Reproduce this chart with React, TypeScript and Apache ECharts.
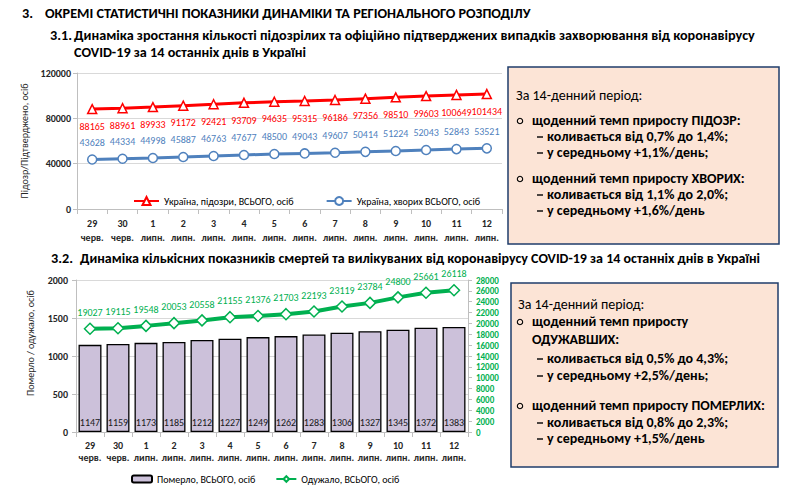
import React, { useEffect, useRef } from "react";
import * as echarts from "echarts";

const days = ["29", "30", "1", "2", "3", "4", "5", "6", "7", "8", "9", "10", "11", "12"];
const months = ["черв.", "черв.", "липн.", "липн.", "липн.", "липн.", "липн.", "липн.", "липн.", "липн.", "липн.", "липн.", "липн.", "липн."];
const suspected = [88165, 88961, 89933, 91172, 92421, 93709, 94635, 95315, 96186, 97356, 98510, 99603, 100649, 101434];
const confirmed = [43628, 44334, 44998, 45887, 46763, 47677, 48500, 49043, 49607, 50414, 51224, 52043, 52843, 53521];
const deaths = [1147, 1159, 1173, 1185, 1212, 1227, 1249, 1262, 1283, 1306, 1327, 1345, 1372, 1383];
const recovered = [19027, 19115, 19548, 20053, 20558, 21155, 21376, 21703, 22193, 23119, 23784, 24800, 25661, 26118];

const seriesNames = [
  "Україна, підозри, ВСЬОГО, осіб",
  "Україна, хворих ВСЬОГО, осіб",
  "Померло, ВСЬОГО, осіб",
  "Одужало, ВСЬОГО, осіб",
];

const heading = "ОКРЕМІ СТАТИСТИЧНІ ПОКАЗНИКИ ДИНАМІКИ ТА РЕГІОНАЛЬНОГО РОЗПОДІЛУ";
const sub1a = "Динаміка зростання кількості підозрілих та офіційно підтверджених випадків захворювання від коронавірусу";
const sub1b = "COVID-19 за 14 останніх днів в Україні";
const sub2 = "Динаміка кількісних показників смертей та вилікуваних від коронавірусу COVID-19 за 14 останніх днів в Україні";

const FONT = "Carlito, Lato, 'Noto Sans', sans-serif";

type Line = { t: string; x: number; y: number; bold?: boolean; kind?: "text" | "bullet" | "dash" };

const box1Lines: Line[] = [
  { t: "За 14-денний період:", x: 516, y: 95 },
  { t: "щоденний темп приросту ПІДОЗР:", x: 532, y: 120, bold: true, kind: "bullet" },
  { t: "коливається від 0,7% до 1,4%;", x: 547, y: 136, bold: true, kind: "dash" },
  { t: "у середньому +1,1%/день;", x: 547, y: 152, bold: true, kind: "dash" },
  { t: "щоденний темп приросту ХВОРИХ:", x: 532, y: 178, bold: true, kind: "bullet" },
  { t: "коливається від 1,1% до 2,0%;", x: 547, y: 194, bold: true, kind: "dash" },
  { t: "у середньому +1,6%/день", x: 547, y: 210, bold: true, kind: "dash" },
];
const box2Lines: Line[] = [
  { t: "За 14-денний період:", x: 518, y: 304 },
  { t: "щоденний темп приросту", x: 532, y: 321, bold: true, kind: "bullet" },
  { t: "ОДУЖАВШИХ:", x: 532, y: 339, bold: true },
  { t: "коливається від 0,5% до 4,3%;", x: 547, y: 358, bold: true, kind: "dash" },
  { t: "у середньому +2,5%/день;", x: 547, y: 375, bold: true, kind: "dash" },
  { t: "щоденний темп приросту ПОМЕРЛИХ:", x: 532, y: 405, bold: true, kind: "bullet" },
  { t: "коливається від 0,8% до 2,3%;", x: 547, y: 422, bold: true, kind: "dash" },
  { t: "у середньому +1,5%/день", x: 547, y: 438, bold: true, kind: "dash" },
];

function txt(text: string, x: number, y: number, size: number, bold: boolean, fill = "#000", align = "left") {
  return {
    type: "text",
    z: 10,
    style: {
      text,
      x,
      y,
      fill,
      fontFamily: FONT,
      fontSize: size,
      fontWeight: bold ? "bold" : "normal",
      textAlign: align,
      textVerticalAlign: "middle",
    },
  };
}

function boxGraphics(lines: Line[]) {
  const out: any[] = [];
  lines.forEach((l) => {
    out.push(txt(l.t, l.x, l.y, 14, !!l.bold));
    if (l.kind === "bullet")
      out.push({
        type: "circle",
        z: 10,
        shape: { cx: l.x - 12, cy: l.y + 1, r: 2.7 },
        style: { fill: "none", stroke: "#000", lineWidth: 1.1 },
      });
    if (l.kind === "dash")
      out.push({
        type: "line",
        z: 10,
        shape: { x1: l.x - 10, y1: l.y + 1, x2: l.x - 4, y2: l.y + 1 },
        style: { stroke: "#000", lineWidth: 1.4 },
      });
  });
  return out;
}

const plain = (v: number) => String(v);

export default function App() {
  const ref = useRef<HTMLDivElement>(null);
  useEffect(() => {
    document.body.style.margin = "0";
    const chart = echarts.init(ref.current!, null, { renderer: "svg" });
    const cats = days.map((d, i) => d + "\n" + months[i]);
    const axisGray = "#bfbfbf";
    const gridGray = "#d9d9d9";
    const option: any = {
      animation: false,
      textStyle: { fontFamily: FONT },
      grid: [
        { left: 77, top: 73, width: 425, height: 136 },
        { left: 76, top: 280, width: 392, height: 152 },
      ],
      legend: [
        {
          data: [seriesNames[0], seriesNames[1]],
          left: 128,
          top: 191,
          itemWidth: 25,
          itemHeight: 10,
          itemGap: 32,
          textStyle: { fontSize: 10, color: "#000", fontFamily: FONT },
        },
        {
          data: [seriesNames[2], seriesNames[3]],
          left: 126,
          top: 469,
          itemWidth: 20,
          itemHeight: 7,
          itemGap: 20,
          textStyle: { fontSize: 10, color: "#000", fontFamily: FONT },
        },
      ],
      xAxis: [
        {
          type: "category",
          gridIndex: 0,
          data: cats,
          boundaryGap: true,
          axisLine: { lineStyle: { color: axisGray } },
          axisTick: { show: true, length: 5, lineStyle: { color: axisGray } },
          axisLabel: { interval: 0, fontSize: 10, fontWeight: "bold", color: "#262626", lineHeight: 14, margin: 7 },
        },
        {
          type: "category",
          gridIndex: 1,
          data: cats,
          boundaryGap: true,
          axisLine: { lineStyle: { color: axisGray } },
          axisTick: { show: true, length: 5, lineStyle: { color: axisGray } },
          axisLabel: { interval: 0, fontSize: 10, fontWeight: "bold", color: "#262626", lineHeight: 12, margin: 7 },
        },
      ],
      yAxis: [
        {
          type: "value",
          gridIndex: 0,
          min: 0,
          max: 120000,
          interval: 40000,
          name: "Підозр/Підтверджено, осіб",
          nameLocation: "middle",
          nameRotate: 90,
          nameGap: 44,
          nameTextStyle: { fontSize: 10, color: "#262626" },
          axisLine: { show: true, lineStyle: { color: axisGray } },
          axisTick: { show: true, length: 4, lineStyle: { color: axisGray } },
          splitLine: { lineStyle: { color: gridGray } },
          axisLabel: { fontSize: 10, fontWeight: "bold", color: "#262626", margin: 6, formatter: plain },
        },
        {
          type: "value",
          gridIndex: 1,
          min: 0,
          max: 2000,
          interval: 500,
          name: "Померло / одужало, осіб",
          nameLocation: "middle",
          nameRotate: 90,
          nameGap: 41,
          nameTextStyle: { fontSize: 10, color: "#262626", padding: [0, 0, 0, 26] },
          axisLine: { show: true, lineStyle: { color: axisGray } },
          axisTick: { show: true, length: 4, lineStyle: { color: axisGray } },
          splitLine: { lineStyle: { color: gridGray } },
          axisLabel: { fontSize: 10, fontWeight: "bold", color: "#262626", margin: 8, formatter: plain },
        },
        {
          type: "value",
          gridIndex: 1,
          position: "right",
          min: 0,
          max: 28000,
          interval: 2000,
          axisLine: { show: true, lineStyle: { color: axisGray } },
          axisTick: { show: true, length: 4, lineStyle: { color: axisGray } },
          splitLine: { show: false },
          axisLabel: { fontSize: 9, lineHeight: 10, fontWeight: "bold", color: "#00b050", margin: 8, formatter: plain },
        },
      ],
      series: [
        {
          name: seriesNames[0],
          type: "line",
          xAxisIndex: 0,
          yAxisIndex: 0,
          data: suspected,
          symbol: "triangle",
          symbolSize: 9,
          showAllSymbol: true,
          lineStyle: { color: "#ff0000", width: 3 },
          itemStyle: { color: "#ffffff", borderColor: "#ff0000", borderWidth: 1.5 },
          label: { show: true, position: "bottom", distance: 7, color: "#ff0000", fontSize: 10 },
        },
        {
          name: seriesNames[1],
          type: "line",
          xAxisIndex: 0,
          yAxisIndex: 0,
          data: confirmed,
          symbol: "circle",
          symbolSize: 9,
          showAllSymbol: true,
          lineStyle: { color: "#4f81bd", width: 3 },
          itemStyle: { color: "#ffffff", borderColor: "#4f81bd", borderWidth: 1.5 },
          label: { show: true, position: "top", distance: 7, color: "#4f81bd", fontSize: 10 },
        },
        {
          name: seriesNames[2],
          type: "bar",
          xAxisIndex: 1,
          yAxisIndex: 1,
          data: deaths,
          barWidth: "82%",
          itemStyle: { color: "#ccc1da", borderColor: "#000000", borderWidth: 1.3 },
          label: { show: true, position: "insideBottom", distance: 5, color: "#1a1a1a", fontSize: 10 },
        },
        {
          name: seriesNames[3],
          type: "line",
          xAxisIndex: 1,
          yAxisIndex: 2,
          data: recovered,
          symbol: "diamond",
          symbolSize: 11,
          showAllSymbol: true,
          lineStyle: { color: "#00b050", width: 4 },
          itemStyle: { color: "#ffffff", borderColor: "#00b050", borderWidth: 1.5 },
          label: { show: true, position: "top", distance: 5, color: "#00b050", fontSize: 10 },
          z: 5,
        },
      ],
      graphic: [
        txt("3.", 22, 13, 14.2, true),
        txt(heading, 45, 13, 14.2, true),
        txt("3.1.", 50, 35, 14.2, true),
        txt(sub1a, 74, 35, 14.2, true),
        txt(sub1b, 74, 52, 14.2, true),
        txt("3.2.", 51, 258, 14.2, true),
        txt(sub2, 80, 258, 14, true),
        {
          type: "rect",
          z: 5,
          shape: { x: 508, y: 67, width: 271, height: 177 },
          style: { fill: "#fce4d6", stroke: "#1f3d6b", lineWidth: 1.5 },
        },
        {
          type: "rect",
          z: 5,
          shape: { x: 511, y: 283, width: 267, height: 184 },
          style: { fill: "#fce4d6", stroke: "#1f3d6b", lineWidth: 1.5 },
        },
        ...boxGraphics(box1Lines),
        ...boxGraphics(box2Lines),
      ],
    };
    chart.setOption(option);
    return () => chart.dispose();
  }, []);
  return <div ref={ref} style={{ width: 809, height: 500 }} />;
}
